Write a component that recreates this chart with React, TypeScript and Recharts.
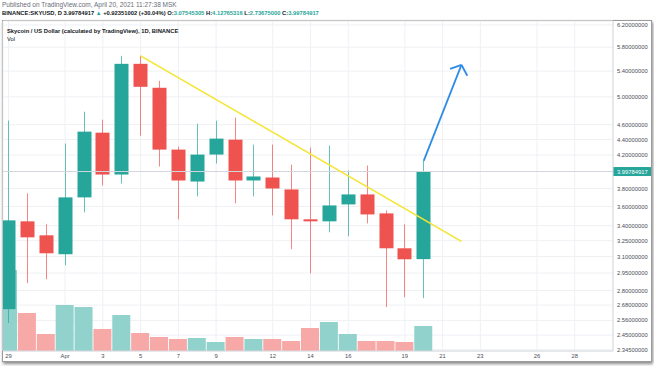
import React from "react";
import {
  ComposedChart,
  Bar,
  Cell,
  XAxis,
  YAxis,
  CartesianGrid,
  ReferenceLine,
} from "recharts";

// SKYUSD daily (log price scale)
const dates = [
  "2021-03-29", "2021-03-30", "2021-03-31", "2021-04-01", "2021-04-02", "2021-04-03",
  "2021-04-04", "2021-04-05", "2021-04-06", "2021-04-07", "2021-04-08", "2021-04-09",
  "2021-04-10", "2021-04-11", "2021-04-12", "2021-04-13", "2021-04-14", "2021-04-15",
  "2021-04-16", "2021-04-17", "2021-04-18", "2021-04-19", "2021-04-20",
];
const opens = [
  2.648, 3.444, 3.303, 3.121, 3.7, 4.491, 3.962, 5.519, 5.137, 4.269, 3.88, 4.206,
  4.398, 3.892, 3.927, 3.789, 3.465, 3.444, 3.623, 3.733, 3.527, 3.177, 3.07545305,
];
const highs = [
  4.655, 3.744, 3.413, 4.347, 4.782, 4.669, 5.652, 5.652, 5.245, 4.307, 4.614, 4.655,
  4.697, 4.333, 4.333, 4.082, 4.295, 4.32, 4.01, 4.07, 3.559, 3.413, 4.12765316,
];
const lows = [
  2.54, 2.862, 2.896, 3.02, 3.537, 3.834, 3.857, 4.451, 4.058, 3.465, 3.711, 4.095,
  3.634, 3.711, 3.506, 3.168, 2.948, 3.333, 3.293, 3.423, 2.664, 2.745, 2.73675,
];
const closes = [
  3.454, 3.283, 3.13, 3.7, 4.505, 3.962, 5.519, 5.152, 4.269, 3.892, 4.206, 4.412,
  3.892, 3.939, 3.8, 3.465, 3.444, 3.612, 3.733, 3.516, 3.177, 3.0743, 3.99784917,
];
// volume, millions (no scale shown on the chart)
const volumes = [
  8.1, 3.8, 1.7, 4.6, 4.4, 2.2, 3.6, 1.8, 1.4, 1.2, 1.3, 0.9,
  1.4, 1.2, 1.2, 1.0, 2.3, 2.9, 1.7, 1.0, 1.0, 0.9, 2.5,
];

const xTicks = [0, 3, 5, 7, 9, 11, 14, 16, 18, 21, 23, 25, 28, 30];
const xTickLabels = ["29", "Apr", "3", "5", "7", "9", "12", "14", "16", "19", "21", "23", "26", "28"];
const yTicks = [
  2.345, 2.45, 2.56, 2.68, 2.8, 2.95, 3.1, 3.25, 3.4, 3.6, 3.8, 4.2, 4.4, 4.6, 5.0, 5.4, 5.8, 6.2,
];

// drawings: day index from Mar 29, price
const trendLine = [{ d: 7, p: 5.652 }, { d: 24, p: 3.244 }];
const arrowShaft = [{ d: 22, p: 4.128 }, { d: 24, p: 5.503 }];
const arrowLeft = [{ d: 23.4, p: 5.437 }, { d: 24, p: 5.503 }];
const arrowRight = [{ d: 24.31, p: 5.325 }, { d: 24, p: 5.503 }];

const GREEN = "#26a69a";
const RED = "#ef5350";
const FONT = "'Liberation Sans', Arial, sans-serif";
const DAY = 86400000;

const rows = dates.map((date, i) => ({
  d: Math.round((Date.parse(date) - Date.parse(dates[0])) / DAY),
  open: opens[i],
  high: highs[i],
  low: lows[i],
  close: closes[i],
  volume: volumes[i],
}));

const last = rows[rows.length - 1];

function Candle(props: any) {
  const { x, y, width, height, payload } = props;
  const { open, close, high, low } = payload;
  const color = close >= open ? GREEN : RED;
  const span = Math.log(high) - Math.log(low);
  const toY = (v: number) => y + (span > 0 ? ((Math.log(high) - Math.log(v)) / span) * height : 0);
  const cx = Math.round(x + width / 2) + 0.5;
  const top = toY(Math.max(open, close));
  const bot = toY(Math.min(open, close));
  return (
    <g>
      <line x1={cx} x2={cx} y1={y} y2={y + height} stroke={color} strokeOpacity={0.7} />
      <rect x={cx - 7} y={top} width={14} height={Math.max(1.5, bot - top)} fill={color} />
    </g>
  );
}

function PriceLabel(props: any) {
  const vb = props.viewBox;
  const px = vb.x + vb.width;
  return (
    <g>
      <rect x={px} y={vb.y - 4.5} width={38} height={9} fill={GREEN} />
      <text x={px + 4} y={vb.y} dy="0.35em" fill="#fff" fontSize={5.8} fontFamily={FONT}>
        {last.close.toFixed(8)}
      </text>
    </g>
  );
}

export default function App() {
  return (
    <div style={{ position: "absolute", left: 0, top: 0, width: 654, height: 366, background: "#fff", overflow: "hidden" }}>
      <div style={{ position: "absolute", left: 2, top: 0, fontFamily: FONT, fontSize: 6.5, color: "#6a6d78", whiteSpace: "nowrap", lineHeight: "9px" }}>
        Published on TradingView.com, April 20, 2021 11:27:38 MSK
      </div>
      <div style={{ position: "absolute", left: 2, top: 9, fontFamily: FONT, fontSize: 5.8, fontWeight: 700, color: "#131722", whiteSpace: "nowrap", lineHeight: "9px" }}>
        BINANCE:SKYUSD, D 3.99784917 <span style={{ color: GREEN }}>▲</span> +0.92351002 (+30.04%) O:<span style={{ color: GREEN }}>3.07545305</span> H:<span style={{ color: GREEN }}>4.12765316</span> L:<span style={{ color: GREEN }}>2.73675000</span> C:<span style={{ color: GREEN }}>3.99784917</span>
      </div>
      <div style={{ position: "absolute", left: 2, top: 20, width: 648, height: 340, border: "1px solid #9a9a9a", boxShadow: "1px 2px 3px #888" }} />
      <div style={{ position: "absolute", left: 0, top: 0 }}>
        <ComposedChart
          width={654}
          height={366}
          data={rows}
          margin={{ top: 21, right: 2, bottom: 5, left: 3 }}
          barGap={-18}
        >
          <CartesianGrid stroke="#eef0f4" />
          <XAxis
            dataKey="d"
            type="number"
            domain={[-0.29, 32.03]}
            allowDataOverflow
            ticks={xTicks}
            interval={0}
            tickFormatter={(v: number) => xTickLabels[xTicks.indexOf(v)]}
            height={10}
            tickLine={false}
            tickSize={0}
            tickMargin={3}
            axisLine={{ stroke: "#d6d9e0" }}
            tick={{ fontSize: 5.8, fill: "#4a4d58", fontFamily: FONT }}
          />
          <YAxis
            orientation="right"
            scale="log"
            domain={[2.336, 6.274]}
            allowDataOverflow
            ticks={yTicks}
            interval={0}
            tickFormatter={(v: number) => v.toFixed(8)}
            width={39}
            tickLine={false}
            tickSize={0}
            tickMargin={4}
            axisLine={{ stroke: "#d6d9e0" }}
            tick={{ fontSize: 5.8, fill: "#4a4d58", fontFamily: FONT }}
          />
          <YAxis yAxisId="vol" hide domain={[0, 33]} />
          <Bar dataKey="volume" yAxisId="vol" barSize={18} isAnimationActive={false}>
            {rows.map((r, i) => (
              <Cell key={i} fill={r.close >= r.open ? "#92d2cc" : "#f7a9a8"} />
            ))}
          </Bar>
          <Bar
            dataKey={(r: any) => [r.low, r.high]}
            barSize={18}
            shape={<Candle />}
            isAnimationActive={false}
          />
          <ReferenceLine y={last.close} stroke="#d3d6dd" label={PriceLabel} />
          <ReferenceLine
            segment={[{ x: trendLine[0].d, y: trendLine[0].p }, { x: trendLine[1].d, y: trendLine[1].p }]}
            stroke="#f5e532"
            strokeWidth={1.6}
          />
          <ReferenceLine
            segment={[{ x: arrowShaft[0].d, y: arrowShaft[0].p }, { x: arrowShaft[1].d, y: arrowShaft[1].p }]}
            stroke="#2e8be6"
            strokeWidth={1.8}
          />
          <ReferenceLine
            segment={[{ x: arrowLeft[0].d, y: arrowLeft[0].p }, { x: arrowLeft[1].d, y: arrowLeft[1].p }]}
            stroke="#2e8be6"
            strokeWidth={1.8}
          />
          <ReferenceLine
            segment={[{ x: arrowRight[0].d, y: arrowRight[0].p }, { x: arrowRight[1].d, y: arrowRight[1].p }]}
            stroke="#2e8be6"
            strokeWidth={1.8}
          />
        </ComposedChart>
      </div>
      <div style={{ position: "absolute", left: 7, top: 27, fontFamily: FONT, fontSize: 5.8, color: "#131722", whiteSpace: "nowrap", lineHeight: "8px" }}>
        <div style={{ fontWeight: 600 }}>Skycoin / US Dollar (calculated by TradingView), 1D, BINANCE</div>
        <div>Vol</div>
      </div>
    </div>
  );
}
